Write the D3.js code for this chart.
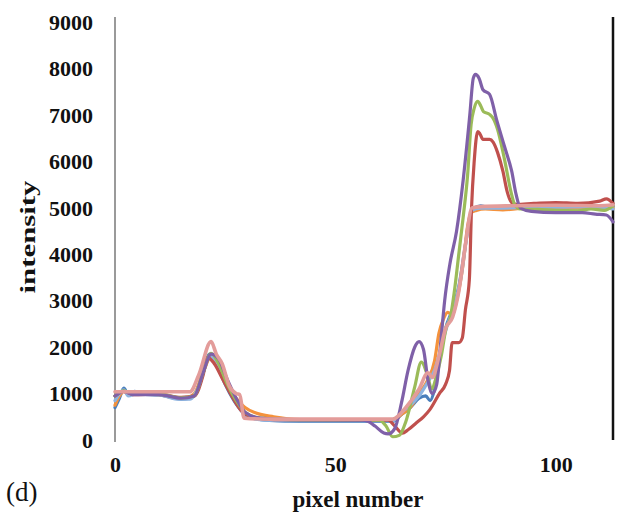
<!DOCTYPE html>
<html>
<head>
<meta charset="utf-8">
<script src="https://cdn.jsdelivr.net/npm/d3@7"></script>
<style>
  html, body { margin: 0; padding: 0; background: #fff; }
  svg { display: block; }
  text { font-family: "Liberation Serif", "DejaVu Serif", serif; fill: #111; }
</style>
</head>
<body>
<svg id="chart" width="634" height="519"></svg>
<script>
// Intensity profiles along the pixel line, one series per trace: [pixel, intensity]
const blue = [[0,700],[1,900],[2,1120],[3,980],[4.5,1050],[6,990],[10,970],[13,920],[15,880],[17,900],[18.5,1050],[20,1500],[21.5,1850],[23,1650],[25,1200],[27,850],[29,600],[31,480],[35,420],[42,400],[55,400],[63,400],[65,550],[67,700],[69,900],[70.5,950],[71.5,850],[72.5,1100],[73.5,1700],[75,2400],[76.5,2800],[78,3300],[79.5,4200],[80.5,4800],[81.5,5000],[83,5050],[86,4980],[90,5000],[95,5030],[100,5010],[105,5020],[110,5050],[113,5040]];
const orange = [[0,750],[1,950],[2,1050],[3,980],[5,1000],[10,980],[14,900],[16,900],[18,1000],[20,1450],[21.8,1800],[23.5,1550],[25.5,1150],[27.5,900],[29.5,700],[32,580],[36,500],[42,440],[50,430],[63,430],[65,550],[67,700],[69,1000],[71,1300],[72.5,1700],[73.5,2300],[74.5,2600],[75.5,2750],[76.5,2700],[77.5,3000],[79,3800],[80,4600],[80.8,4900],[82,4950],[84,4980],[88,4960],[92,4990],[100,5010],[106,5000],[110,5020],[113,5000]];
const lightBlue = [[0,850],[1,1000],[2,1080],[3,950],[5,1000],[10,980],[14,880],[17,880],[19,1150],[21.5,1800],[23,1700],[25,1250],[27,900],[28.5,650],[30,500],[34,430],[45,410],[63,410],[65,600],[67,750],[69,950],[71,1250],[72.5,1500],[74,2000],[75.5,2500],[77,2900],[78.5,3500],[80,4500],[81,4950],[83,5000],[88,5000],[95,5020],[100,5020],[108,5030],[113,4980]];
const red = [[0,950],[2,1050],[4,980],[10,990],[15,920],[18,950],[20,1400],[21,1780],[22.5,1650],[24.5,1300],[26.5,950],[28.5,650],[31,500],[36,440],[62,430],[63.5,300],[65.2,150],[66.5,220],[68.4,370],[70,500],[71.4,650],[73.6,1000],[75,1200],[75.9,1500],[76.5,2100],[78,2100],[78.8,2200],[79.5,2800],[80.4,3450],[80.9,5000],[81.5,6000],[82.3,6650],[82.8,6600],[83.5,6480],[85,6480],[85.8,6420],[86.8,6200],[88,5800],[89,5350],[90,5120],[91,5080],[95,5100],[100,5120],[105,5100],[110,5150],[111.5,5200],[113,5100]];
const green = [[0,950],[2,1060],[4,990],[10,990],[15,910],[18,950],[20,1450],[21.8,1870],[23.5,1650],[25.5,1200],[27.5,850],[29.5,600],[33,470],[40,440],[60,430],[61.5,300],[63,70],[64.5,100],[66,400],[68,1140],[69.5,1680],[71,1360],[71.8,1100],[73,1400],[74,1800],[75.2,2440],[76,2600],[77,3200],[78,4000],[79,4800],[80,5700],[80.8,6800],[81.5,7150],[82.3,7300],[83,7200],[83.6,7080],[85,7020],[85.7,6950],[86.8,6700],[88.4,6040],[90,5290],[90.7,5070],[92,4980],[96,4970],[100,4950],[105,4940],[108,4980],[111,4950],[113,5050]];
const purple = [[0,950],[2,1050],[4,980],[10,980],[15,900],[18,950],[20,1450],[21.8,1850],[23.5,1750],[25.5,1300],[27.5,900],[29.5,600],[33,470],[40,440],[56,430],[57.5,400],[59,300],[61,150],[62,130],[63.5,250],[65,800],[66.5,1500],[68,2000],[69,2120],[70,1950],[71,1300],[72,1000],[73,1200],[74,2200],[74.8,3000],[76,3800],[77.5,4500],[79,5600],[80.5,7000],[81.3,7800],[81.8,7880],[82.6,7800],[83.5,7550],[85,7450],[86.6,6900],[88.4,6320],[90,5800],[91,5300],[92,5000],[94.5,4930],[100,4900],[106,4900],[109,4870],[111.5,4850],[113,4700]];
const pink = [[0,1040],[17,1040],[19,1400],[21.8,2120],[23,1850],[24.3,1650],[26,1150],[27.5,1000],[28.3,980],[29.3,470],[35,450],[63,450],[66,700],[69,1100],[71,1450],[72,1350],[73.5,1800],[75,2400],[76.6,2650],[78,3200],[79.5,4200],[81,5000],[83,5030],[90,5050],[100,5060],[110,5050],[113,5070]];

const yTicks = [0, 1000, 2000, 3000, 4000, 5000, 6000, 7000, 8000, 9000];
const xTicks = [0, 50, 100];

// Draw order (last on top) and stroke colours
const series = [
  { data: blue, color: "#4a7ebb", width: 3.2 },
  { data: orange, color: "#f4923c", width: 3.2 },
  { data: lightBlue, color: "#8db3e0", width: 3.2 },
  { data: red, color: "#c0504d", width: 3.2 },
  { data: green, color: "#9bbb59", width: 3.2 },
  { data: purple, color: "#7f60a8", width: 3.2 },
  { data: pink, color: "#e39c9a", width: 3.6 }
];

const svg = d3.select("#chart");

const x = d3.scaleLinear().domain([0, 113]).range([115, 613]);
const y = d3.scaleLinear().domain([0, 9000]).range([440, 22.5]);

// Left axis line (grey) and right frame line (black)
svg.append("line")
  .attr("x1", 115).attr("x2", 115).attr("y1", 17).attr("y2", 442)
  .attr("stroke", "#9a9a9a").attr("stroke-width", 2);
svg.append("line")
  .attr("x1", 613).attr("x2", 613).attr("y1", 17).attr("y2", 440)
  .attr("stroke", "#111").attr("stroke-width", 2.5);

// Y axis tick labels
const yAxis = d3.axisLeft(y).tickValues(yTicks).tickSize(0).tickPadding(0).tickFormat(d3.format("d"));
const gy = svg.append("g").attr("transform", "translate(93,0)").call(yAxis);
gy.select(".domain").remove();
gy.selectAll("text")
  .attr("font-family", "Liberation Serif, serif")
  .attr("font-size", 22).attr("font-weight", "bold").attr("fill", "#111");

// X axis tick labels
const xAxis = d3.axisBottom(x).tickValues(xTicks).tickSize(0).tickPadding(0).tickFormat(d3.format("d"));
const gx = svg.append("g").attr("transform", "translate(0,456)").call(xAxis);
gx.select(".domain").remove();
gx.selectAll("text")
  .attr("font-family", "Liberation Serif, serif")
  .attr("font-size", 22).attr("font-weight", "bold").attr("fill", "#111");

// Profile lines
const line = d3.line()
  .x(d => x(d[0]))
  .y(d => y(d[1]))
  .curve(d3.curveMonotoneX);

svg.append("g").selectAll("path")
  .data(series)
  .join("path")
  .attr("d", s => line(s.data))
  .attr("fill", "none")
  .attr("stroke", s => s.color)
  .attr("stroke-width", s => s.width)
  .attr("stroke-linejoin", "round")
  .attr("stroke-linecap", "round");

// Axis titles and panel label
svg.append("text")
  .attr("x", 358).attr("y", 507)
  .attr("text-anchor", "middle")
  .attr("font-size", 23).attr("font-weight", "bold")
  .attr("textLength", 131).attr("lengthAdjust", "spacingAndGlyphs")
  .text("pixel number");

svg.append("text")
  .attr("transform", "translate(35,237) rotate(-90)")
  .attr("text-anchor", "middle")
  .attr("font-size", 22).attr("font-weight", "bold")
  .attr("textLength", 113).attr("lengthAdjust", "spacingAndGlyphs")
  .text("intensity");

svg.append("text")
  .attr("x", 6).attr("y", 501)
  .attr("font-size", 27)
  .text("(d)");
</script>
</body>
</html>
